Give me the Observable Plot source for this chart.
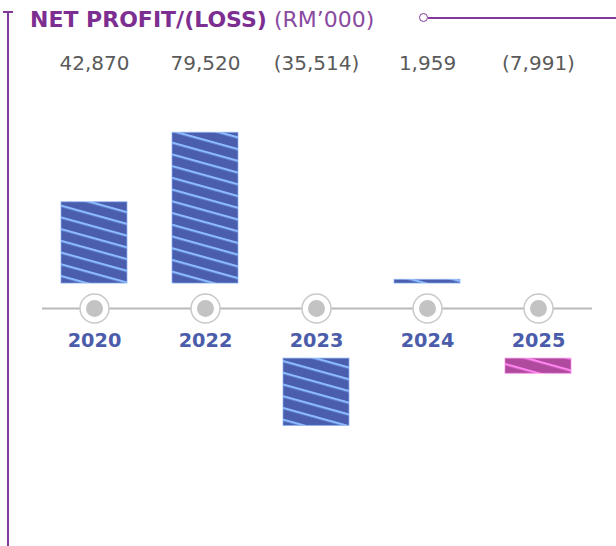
<!DOCTYPE html>
<html>
<head>
<meta charset="utf-8">
<script src="https://cdn.jsdelivr.net/npm/d3@7"></script>
<script src="https://cdn.jsdelivr.net/npm/@observablehq/plot@0.6"></script>
<style>
  html, body { margin: 0; padding: 0; background: #fff; }
  #wrap { position: relative; width: 616px; height: 546px; overflow: hidden; font-family: "DejaVu Sans", sans-serif; }
  #chart { position: absolute; left: 0; top: 0; }
  .deco { position: absolute; background: #83399b; z-index: 2; }
  #title { position: absolute; left: 30px; top: 7px; z-index: 3; color: #7d2f91; font-size: 22px; line-height: 25px; white-space: nowrap; }
  #title b { font-weight: bold; }
  #title span { font-weight: normal; color: #8a4a9f; }
  #dotTop { position: absolute; left: 419px; top: 12.5px; width: 7px; height: 7px; border: 1.8px solid #83399b; border-radius: 50%; background: #fff; z-index: 3; }
</style>
</head>
<body>
<div id="wrap">
  <div id="chart"></div>
  <div class="deco" style="left:7px; top:11px; width:2px; height:535px;"></div>
  <div class="deco" style="left:3px; top:11px; width:10px; height:2px;"></div>
  <div class="deco" style="left:428px; top:16.5px; width:188px; height:2px;"></div>
  <div id="dotTop"></div>
  <div id="title"><b>NET PROFIT/(LOSS)</b> <span>(RM’000)</span></div>
</div>
<script>
// ---- data ----
const years = ["2020", "2022", "2023", "2024", "2025"];
const profit = [42870, 79520, -35514, 1959, -7991];
const valueLabels = ["42,870", "79,520", "(35,514)", "1,959", "(7,991)"];
const highlight = ["2025"];

const data = years.map((year, i) => ({ year, value: profit[i], label: valueLabels[i] }));

// layout gaps (in data units) between the axis line and bar bases
const gapUp = 13200;
const gapDown = 26400;

const base = d => (d.value >= 0 ? gapUp : -gapDown);

const blue = data.filter(d => !highlight.includes(d.year));
const pink = data.filter(d => highlight.includes(d.year));

const plot = Plot.plot({
  width: 616,
  height: 546,
  marginTop: 0,
  marginBottom: 0,
  marginLeft: 38.5,
  marginRight: 22.5,
  x: { type: "band", domain: years, paddingInner: 0.405, paddingOuter: 0.2025, axis: null },
  y: { domain: [-125500, 162500], axis: null },
  marks: [
    Plot.ruleY([0], { stroke: "#b9b9b9", strokeWidth: 2, insetLeft: 3.5, insetRight: 1.5 }),
    Plot.barY(blue, { x: "year", y1: base, y2: d => base(d) + d.value, fill: "url(#stripeBlue)", stroke: "#86aef5", strokeWidth: 1, strokeOpacity: 0.7 }),
    Plot.barY(pink, { x: "year", y1: base, y2: d => base(d) + d.value, fill: "url(#stripePink)", stroke: "#f98ae8", strokeWidth: 1, strokeOpacity: 0.7 }),
    Plot.dot(data, { x: "year", y: 0, r: 14.5, fill: "white", stroke: "#c9c9c9", strokeWidth: 1.5 }),
    Plot.dot(data, { x: "year", y: 0, r: 8.5, fill: "#c3c3c3" }),
    Plot.text(data, { x: "year", y: 0, dy: 32, text: "year", fill: "#4b5daa", fontSize: 19.3, fontWeight: "bold", fontFamily: "DejaVu Sans" }),
    Plot.text(data, { x: "year", frameAnchor: "top", dy: 55, text: "label", fill: "#5a5a5a", fontSize: 20, fontFamily: "DejaVu Sans" })
  ]
});

// stripe patterns
d3.select(plot).insert("defs", ":first-child").html(`
  <pattern id="stripeBlue" patternUnits="userSpaceOnUse" width="20" height="11.3" patternTransform="rotate(15.5)">
    <rect width="20" height="11.3" fill="#4a5ead"></rect>
    <rect y="0" width="20" height="2.2" fill="#8cbcff"></rect>
  </pattern>
  <pattern id="stripePink" patternUnits="userSpaceOnUse" width="20" height="11.3" patternTransform="rotate(15.5)">
    <rect width="20" height="11.3" fill="#b04a9e"></rect>
    <rect y="0" width="20" height="2.2" fill="#ff86f0"></rect>
  </pattern>
`);

document.getElementById("chart").appendChild(plot);
</script>
</body>
</html>
